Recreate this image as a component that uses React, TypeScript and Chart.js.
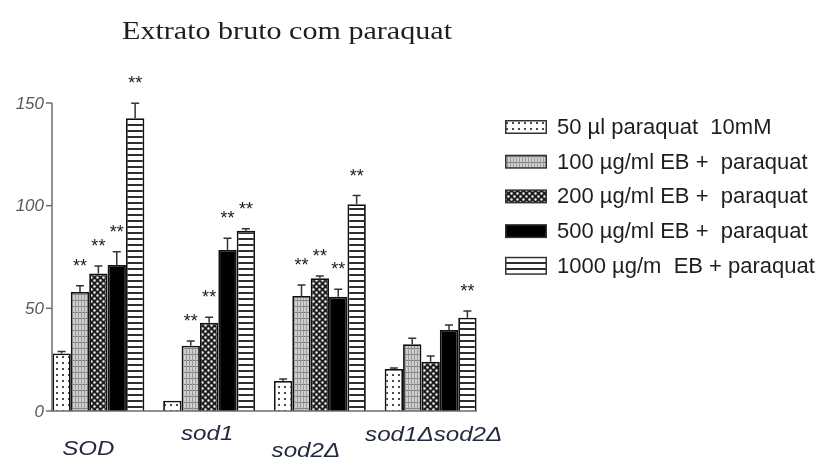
import React, { useEffect, useRef } from "react";
import { Chart, registerables } from "chart.js";

Chart.register(...registerables);

// ---- data ----
const title = "Extrato bruto com paraquat";
const categories = ["SOD", "sod1", "sod2Δ", "sod1Δsod2Δ"];
const seriesLabels = [
  "50 µl paraquat  10mM",
  "100 µg/ml EB +  paraquat",
  "200 µg/ml EB +  paraquat",
  "500 µg/ml EB +  paraquat",
  "1000 µg/m  EB + paraquat",
];
const yTicks = [0, 50, 100, 150];

const paraquat50 = [28, 5, 14.6, 20.5];
const eb100 = [58, 31.8, 56, 32.5];
const eb200 = [67, 43, 64.6, 24];
const eb500 = [71.1, 78.4, 55.7, 39.5];
const eb1000 = [142.6, 87.8, 100.7, 45.4];

const paraquat50Err = [1, 0, 1, 0.5];
const eb100Err = [3, 2.3, 5.4, 2.9];
const eb200Err = [3.6, 2.6, 1.2, 2.8];
const eb500Err = [6.5, 5.7, 3.6, 2.4];
const eb1000Err = [7.3, 1, 4.2, 3.3];

// 1 = "**" significance marker above the bar
const paraquat50Sig = [0, 0, 0, 0];
const eb100Sig = [1, 1, 1, 0];
const eb200Sig = [1, 1, 1, 0];
const eb500Sig = [1, 1, 1, 0];
const eb1000Sig = [1, 1, 1, 1];

const seriesValues = [paraquat50, eb100, eb200, eb500, eb1000];
const seriesErrors = [paraquat50Err, eb100Err, eb200Err, eb500Err, eb1000Err];
const seriesSig = [paraquat50Sig, eb100Sig, eb200Sig, eb500Sig, eb1000Sig];

// ---- fill patterns ----
function makePattern(kind: number): CanvasPattern | string {
  if (kind === 3) return "#000";
  const c = document.createElement("canvas");
  const size = 6;
  c.width = size;
  c.height = size;
  const g = c.getContext("2d")!;
  if (kind === 0) {
    g.fillStyle = "#fff";
    g.fillRect(0, 0, size, size);
    g.fillStyle = "#4a4a4a";
    g.fillRect(2, 2, 2, 2);
  } else if (kind === 1) {
    g.fillStyle = "#cfcfcf";
    g.fillRect(0, 0, size, size);
    g.fillStyle = "#7e7e7e";
    g.fillRect(0, 0, size, 1);
    g.fillStyle = "#9a9a9a";
    g.fillRect(0, 0, 1, size);
    g.fillRect(3, 0, 1, size);
  } else if (kind === 2) {
    g.fillStyle = "#1e1e1e";
    g.fillRect(0, 0, size, size);
    g.fillStyle = "#f2f2f2";
    g.beginPath();
    g.arc(1.5, 1.5, 1.25, 0, Math.PI * 2);
    g.arc(4.5, 4.5, 1.25, 0, Math.PI * 2);
    g.fill();
  } else {
    g.fillStyle = "#fff";
    g.fillRect(0, 0, size, size);
    g.fillStyle = "#2e2e2e";
    g.fillRect(0, 4, size, 2);
  }
  return g.createPattern(c, "repeat")!;
}

function fitText(ctx: CanvasRenderingContext2D, text: string, x: number, y: number, sx: number, align: CanvasTextAlign) {
  ctx.save();
  ctx.translate(x, y);
  ctx.scale(sx, 1);
  ctx.textAlign = align;
  ctx.fillText(text, 0, 0);
  ctx.restore();
}

// axis position and category label placement
const AXIS_X = 52;
const AXIS_END = 477;
const labelPlacement = [
  { dx: -10, base: 455 },
  { dx: -2, base: 440 },
  { dx: -14, base: 457 },
  { dx: 3, base: 441 },
];

function makeDecorations(patterns: (CanvasPattern | string)[]) {
  return {
    id: "decorations",
    afterDatasetsDraw(chart: any) {
      const ctx: CanvasRenderingContext2D = chart.ctx;
      const y = chart.scales.y;
      const x = chart.scales.x;

      // error bars and significance stars
      ctx.save();
      seriesValues.forEach((vals, si) => {
        const meta = chart.getDatasetMeta(si);
        vals.forEach((v, ci) => {
          const bar = meta.data[ci];
          if (!bar) return;
          const e = seriesErrors[si][ci];
          const top = y.getPixelForValue(v + e);
          if (e > 0) {
            ctx.strokeStyle = "#333";
            ctx.lineWidth = 1.5;
            ctx.beginPath();
            ctx.moveTo(bar.x, y.getPixelForValue(v));
            ctx.lineTo(bar.x, top);
            ctx.moveTo(bar.x - 4, top);
            ctx.lineTo(bar.x + 4, top);
            ctx.stroke();
          }
          if (seriesSig[si][ci]) {
            ctx.fillStyle = "#1a1a1a";
            ctx.font = '18px "Liberation Sans", Arial, sans-serif';
            ctx.textAlign = "center";
            ctx.textBaseline = "alphabetic";
            ctx.fillText("**", bar.x, top - 14);
          }
        });
      });
      ctx.restore();

      // axes
      ctx.save();
      ctx.strokeStyle = "#6e6e6e";
      ctx.lineWidth = 1.5;
      ctx.beginPath();
      ctx.moveTo(AXIS_X, y.getPixelForValue(150));
      ctx.lineTo(AXIS_X, y.getPixelForValue(0));
      ctx.lineTo(AXIS_END, y.getPixelForValue(0));
      ctx.stroke();
      ctx.fillStyle = "#5a5a5a";
      ctx.font = 'italic 17px "Liberation Sans", Arial, sans-serif';
      ctx.textAlign = "right";
      ctx.textBaseline = "middle";
      yTicks.forEach((t) => {
        const py = y.getPixelForValue(t);
        ctx.beginPath();
        ctx.moveTo(AXIS_X - 6, py);
        ctx.lineTo(AXIS_X, py);
        ctx.stroke();
        ctx.fillText(String(t), AXIS_X - 8, py + 1);
      });
      ctx.restore();

      // category labels
      ctx.save();
      ctx.fillStyle = "#222a40";
      ctx.font = 'italic 21px "Liberation Sans", Arial, sans-serif';
      ctx.textBaseline = "alphabetic";
      categories.forEach((c, i) => {
        const p = labelPlacement[i];
        fitText(ctx, c, x.getPixelForValue(i) + p.dx, p.base, 1.15, "center");
      });
      ctx.restore();

      // title
      ctx.save();
      ctx.fillStyle = "#1e1e1e";
      ctx.font = '26px "Liberation Serif", "Times New Roman", serif';
      ctx.textBaseline = "alphabetic";
      const tw = ctx.measureText(title).width;
      fitText(ctx, title, 122, 39, 330 / tw, "left");
      ctx.restore();

      // legend
      ctx.save();
      ctx.font = '22px "Liberation Sans", Arial, sans-serif';
      ctx.textBaseline = "middle";
      ctx.textAlign = "left";
      seriesLabels.forEach((lab, i) => {
        const cy = 127 + i * 34.7;
        const bh = i === 4 ? 16 : 12;
        ctx.fillStyle = "#333";
        ctx.fillRect(505, cy - bh / 2 - 1, 42, bh + 2);
        ctx.fillStyle = patterns[i] as any;
        ctx.fillRect(506.5, cy - bh / 2 + 0.5, 39, bh - 1);
        ctx.fillStyle = "#1e1e1e";
        ctx.fillText(lab, 557, cy + 1);
      });
      ctx.restore();
    },
  };
}

export default function App() {
  const ref = useRef<HTMLCanvasElement | null>(null);

  useEffect(() => {
    const canvas = ref.current!;
    const patterns = [0, 1, 2, 3, 4].map(makePattern);
    const chart = new Chart(canvas, {
      type: "bar",
      data: {
        labels: categories,
        datasets: seriesValues.map((vals, i) => ({
          label: seriesLabels[i],
          data: vals,
          backgroundColor: patterns[i] as any,
          borderColor: "#111",
          borderWidth: 1.8,
          borderSkipped: "start" as const,
          categoryPercentage: 0.83,
          barPercentage: 1,
        })),
      },
      options: {
        responsive: false,
        maintainAspectRatio: false,
        animation: false,
        events: [],
        layout: { padding: { left: 43, right: 330, top: 103, bottom: 54 } },
        scales: {
          x: { display: false, offset: true },
          y: { display: false, min: 0, max: 150 },
        },
        plugins: {
          legend: { display: false },
          tooltip: { enabled: false },
          title: { display: false },
        },
      },
      plugins: [makeDecorations(patterns)],
    });
    return () => chart.destroy();
  }, []);

  return (
    <div style={{ position: "absolute", left: 0, top: 0, width: 816, height: 465, background: "#fff" }}>
      <canvas ref={ref} width={816} height={465} style={{ display: "block" }} />
    </div>
  );
}
